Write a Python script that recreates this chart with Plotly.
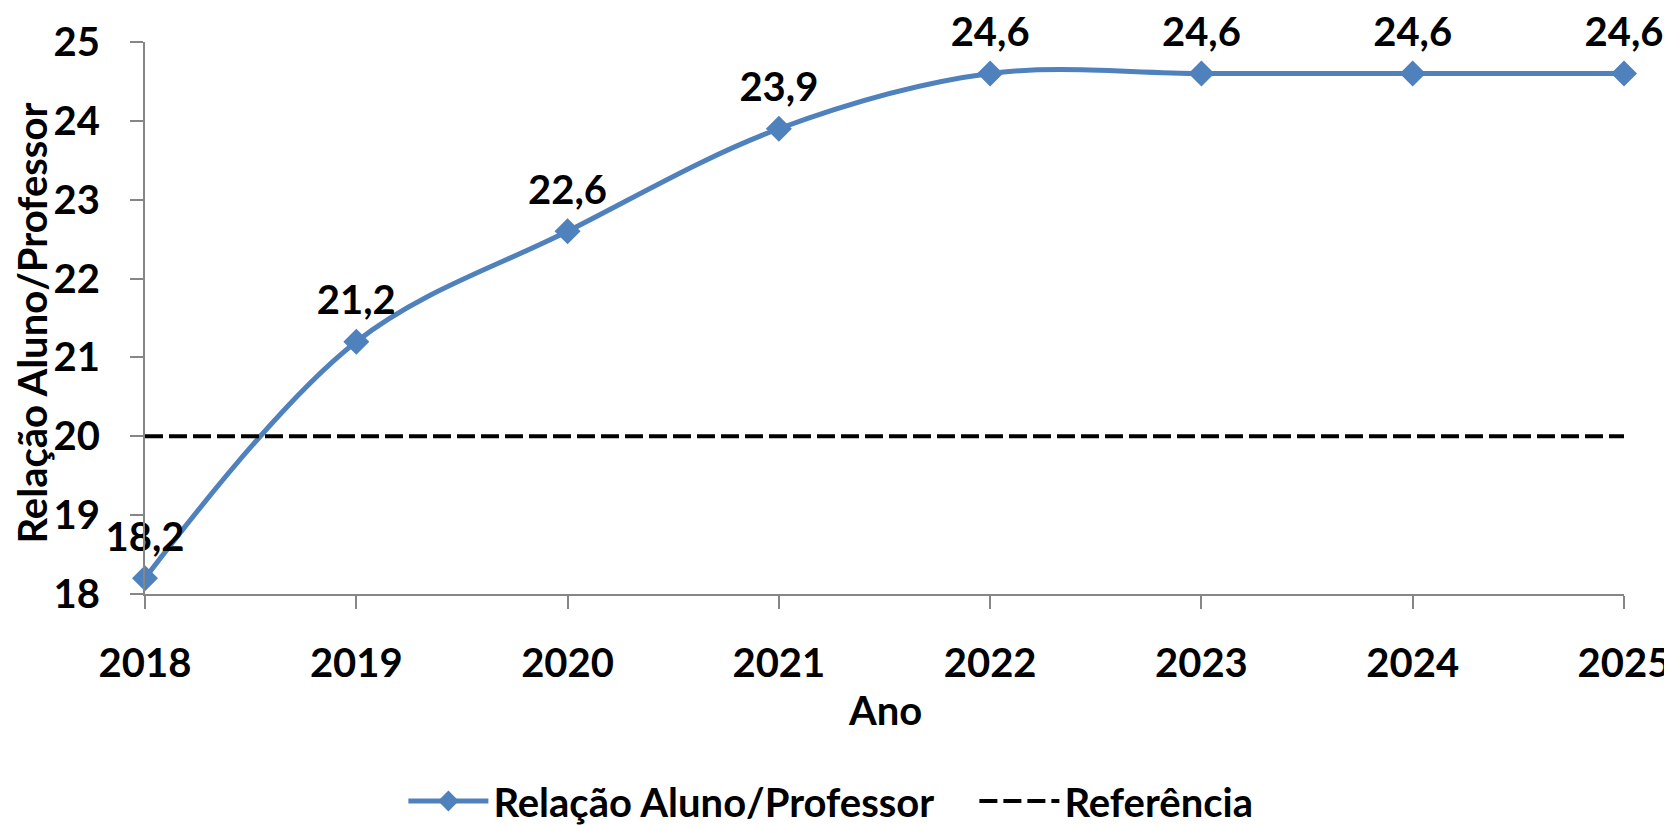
import plotly.graph_objects as go

anos = [2018, 2019, 2020, 2021, 2022, 2023, 2024, 2025]
relacao = [18.2, 21.2, 22.6, 23.9, 24.6, 24.6, 24.6, 24.6]
referencia = [20, 20, 20, 20, 20, 20, 20, 20]
rotulos = [f"{v:.1f}".replace(".", ",") for v in relacao]

azul = '#4F81BD'
cinza = '#868686'
fonte = dict(family='Lato', size=40, color='black', weight='bold')

# a pagina tem 8px de margem no body, por isso a figura e um pouco menor
W, H = 1664, 817
ML, MR, MT, MB = 137, 48, 34, 231
altura = H - MT - MB
largura = W - ML - MR

fig = go.Figure()

fig.add_trace(go.Scatter(
    x=anos, y=relacao,
    name='Relação Aluno/Professor',
    mode='lines+markers',
    line=dict(color=azul, width=5, shape='spline', smoothing=1),
    marker=dict(symbol='diamond', size=20, color=azul),
    cliponaxis=False,
))

# rotulos de dados (marcador invisivel maior so para afastar o texto do ponto)
fig.add_trace(go.Scatter(
    x=anos, y=relacao,
    mode='markers+text',
    marker=dict(size=26, opacity=0),
    text=rotulos,
    textposition='top center',
    textfont=fonte,
    showlegend=False,
    hoverinfo='skip',
    cliponaxis=False,
))

fig.add_trace(go.Scatter(
    x=anos, y=referencia,
    name='Referência',
    mode='lines',
    line=dict(color='black', width=4, dash='18px,6px'),
    cliponaxis=False,
))

fig.update_layout(
    width=W, height=H,
    margin=dict(l=ML, r=MR, t=MT, b=MB, autoexpand=False),
    paper_bgcolor='white',
    plot_bgcolor='white',
    font=fonte,
    showlegend=True,
    legend=dict(
        orientation='h',
        x=0.1747, xanchor='left',
        y=-207 / altura, yanchor='middle',
        bgcolor='rgba(0,0,0,0)',
        font=dict(family='Lato', size=40, color='black', weight='bold'),
        itemwidth=80,
        entrywidth=476, entrywidthmode='pixels',
        tracegroupgap=0,
    ),
    xaxis=dict(
        range=[2018, 2025],
        tickmode='array', tickvals=anos,
        ticks='outside', ticklen=13, tickcolor=cinza, tickwidth=2,
        showline=True, linecolor=cinza, linewidth=2,
        showgrid=False, zeroline=False,
        ticklabelstandoff=20,
        automargin=False,
    ),
    yaxis=dict(
        range=[18, 25], dtick=1,
        ticks='outside', ticklen=13, tickcolor=cinza, tickwidth=2,
        showline=True, linecolor=cinza, linewidth=2,
        showgrid=False, zeroline=False,
        ticklabelstandoff=22,
        automargin=False,
    ),
    annotations=[
        dict(text='Ano', xref='paper', yref='paper', x=0.5, y=-116 / altura,
             xanchor='center', yanchor='middle', showarrow=False, font=fonte),
        dict(text='Relação Aluno/Professor', xref='paper', yref='paper',
             x=(24 - ML) / largura, y=0.49, textangle=-90,
             xanchor='center', yanchor='middle', showarrow=False, font=fonte),
    ],
)

fig.write_html("out.html")
